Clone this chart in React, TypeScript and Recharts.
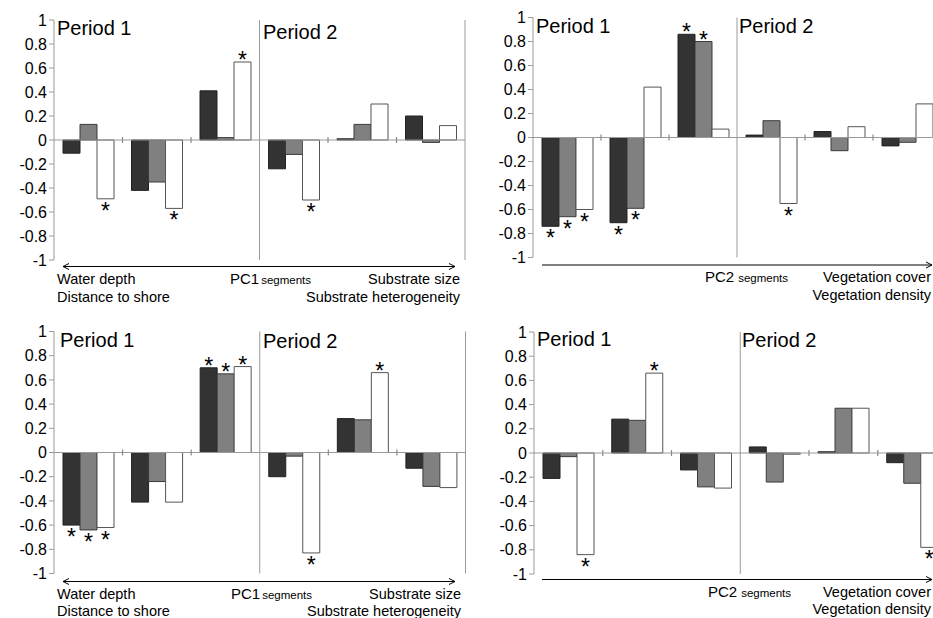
import React from "react";
import { BarChart, Bar, XAxis, YAxis, ReferenceLine, LabelList } from "recharts";

const FONT = "Arial, 'Liberation Sans', Helvetica, sans-serif";
const AXIS = "#9a9a9a";

// six segment groups, three in each period
const segments = ["P1 s1", "P1 s2", "P1 s3", "P2 s1", "P2 s2", "P2 s3"];
const yTicks = [-1, -0.8, -0.6, -0.4, -0.2, 0, 0.2, 0.4, 0.6, 0.8, 1];

// PC1 segments, upper panel
const pc1aDark = [-0.11, -0.42, 0.41, -0.24, 0.01, 0.2];
const pc1aGrey = [0.13, -0.35, 0.02, -0.12, 0.13, -0.02];
const pc1aWhite = [-0.49, -0.57, 0.65, -0.5, 0.3, 0.12];
const pc1aDarkSig = [0, 0, 0, 0, 0, 0];
const pc1aGreySig = [0, 0, 0, 0, 0, 0];
const pc1aWhiteSig = [1, 1, 1, 1, 0, 0];

// PC2 segments, upper panel
const pc2aDark = [-0.74, -0.71, 0.86, 0.02, 0.05, -0.07];
const pc2aGrey = [-0.66, -0.59, 0.8, 0.14, -0.11, -0.04];
const pc2aWhite = [-0.6, 0.42, 0.07, -0.55, 0.09, 0.28];
const pc2aDarkSig = [1, 1, 1, 0, 0, 0];
const pc2aGreySig = [1, 1, 1, 0, 0, 0];
const pc2aWhiteSig = [1, 0, 0, 1, 0, 0];

// PC1 segments, lower panel
const pc1bDark = [-0.6, -0.41, 0.7, -0.2, 0.28, -0.13];
const pc1bGrey = [-0.64, -0.24, 0.65, -0.03, 0.27, -0.28];
const pc1bWhite = [-0.62, -0.41, 0.71, -0.83, 0.66, -0.29];
const pc1bDarkSig = [1, 0, 1, 0, 0, 0];
const pc1bGreySig = [1, 0, 1, 0, 0, 0];
const pc1bWhiteSig = [1, 0, 1, 1, 1, 0];

// PC2 segments, lower panel
const pc2bDark = [-0.21, 0.28, -0.14, 0.05, 0.01, -0.08];
const pc2bGrey = [-0.03, 0.27, -0.28, -0.24, 0.37, -0.25];
const pc2bWhite = [-0.84, 0.66, -0.29, -0.01, 0.37, -0.78];
const pc2bDarkSig = [0, 0, 0, 0, 0, 0];
const pc2bGreySig = [0, 0, 0, 0, 0, 0];
const pc2bWhiteSig = [1, 1, 0, 0, 0, 1];

const star = (vals: number[], sig: number[]) => (props: any) => {
  const i = props.index;
  if (i == null || !sig[i]) return null;
  const vb = props.viewBox || props;
  const x = Number(props.x ?? vb.x);
  const y = Number(props.y ?? vb.y);
  const w = Number(props.width ?? vb.width);
  const h = Number(props.height ?? vb.height);
  const top = Math.min(y, y + h);
  const bottom = Math.max(y, y + h);
  const up = vals[i] >= 0;
  return (
    <text
      x={x + w / 2}
      y={up ? top + 6 : bottom + 20}
      textAnchor="middle"
      fontSize={23}
      fontFamily={FONT}
      fill="#000"
    >
      *
    </text>
  );
};

// short tick crossing the zero line at a segment boundary (domain is symmetric, so zero is mid-height)
const zeroTick = (props: any) => {
  const x = Number(props.x1);
  const mid = (Number(props.y1) + Number(props.y2)) / 2;
  return <line x1={x} x2={x} y1={mid - 3} y2={mid + 3} stroke="#8a8a8a" strokeWidth={1.2} />;
};

type PanelProps = {
  left: number;
  top: number;
  width: number;
  height: number;
  margin: { top: number; right: number; bottom: number; left: number };
  yWidth: number;
  dark: number[];
  grey: number[];
  white: number[];
  darkSig: number[];
  greySig: number[];
  whiteSig: number[];
};

function Panel(p: PanelProps) {
  const data = segments.map((s, i) => ({
    seg: s,
    dark: p.dark[i],
    grey: p.grey[i],
    white: p.white[i],
  }));
  return (
    <div style={{ position: "absolute", left: p.left, top: p.top }}>
      <BarChart
        width={p.width}
        height={p.height}
        data={data}
        margin={p.margin}
        barCategoryGap={9}
        barGap={0}
      >
        <XAxis dataKey="seg" hide />
        <YAxis
          domain={[-1, 1]}
          ticks={yTicks}
          interval={0}
          width={p.yWidth}
          tickSize={5}
          allowDataOverflow
          axisLine={{ stroke: AXIS }}
          tickLine={{ stroke: AXIS }}
          tick={{ fontSize: 16, fill: "#000", fontFamily: FONT }}
        />
        <ReferenceLine y={0} stroke={AXIS} />
        {[1, 2, 4, 5].map((i) => (
          <ReferenceLine
            key={i}
            x={segments[i]}
            position="start"
            stroke={AXIS}
            shape={zeroTick}
          />
        ))}
        <ReferenceLine x={segments[3]} position="start" stroke={AXIS} />
        <ReferenceLine x={segments[5]} position="end" stroke={AXIS} ifOverflow="visible" />
        <Bar dataKey="dark" fill="#333333" stroke="#222" isAnimationActive={false}>
          <LabelList dataKey="dark" content={star(p.dark, p.darkSig)} />
        </Bar>
        <Bar dataKey="grey" fill="#808080" stroke="#3a3a3a" isAnimationActive={false}>
          <LabelList dataKey="grey" content={star(p.grey, p.greySig)} />
        </Bar>
        <Bar dataKey="white" fill="#ffffff" stroke="#555" isAnimationActive={false}>
          <LabelList dataKey="white" content={star(p.white, p.whiteSig)} />
        </Bar>
      </BarChart>
    </div>
  );
}

function Arrow({ x1, x2, y, both }: { x1: number; x2: number; y: number; both?: boolean }) {
  return (
    <g stroke="#000" strokeWidth={1} fill="none">
      <line x1={x1} y1={y} x2={x2} y2={y} />
      <path d={`M${x2 - 6},${y - 3} L${x2},${y} L${x2 - 6},${y + 3}`} />
      {both && <path d={`M${x1 + 6},${y - 3} L${x1},${y} L${x1 + 6},${y + 3}`} />}
    </g>
  );
}

function PcLabel({ x, y, name, gap }: { x: number; y: number; name: string; gap: number }) {
  return (
    <text x={x} y={y} fontSize={15} fontFamily={FONT} fill="#000">
      {name}
      <tspan fontSize={11.5} dx={gap}>
        segments
      </tspan>
    </text>
  );
}

export default function App() {
  const t = { fontFamily: FONT, fill: "#000" };
  return (
    <div
      style={{
        position: "fixed",
        left: 0,
        top: 0,
        width: 933,
        height: 618,
        overflow: "hidden",
        background: "#fff",
      }}
    >
      <Panel
        left={0}
        top={0}
        width={470}
        height={310}
        margin={{ top: 20, right: 5, bottom: 50, left: 0 }}
        yWidth={54}
        dark={pc1aDark}
        grey={pc1aGrey}
        white={pc1aWhite}
        darkSig={pc1aDarkSig}
        greySig={pc1aGreySig}
        whiteSig={pc1aWhiteSig}
      />
      <Panel
        left={463}
        top={0}
        width={483}
        height={310}
        margin={{ top: 17.5, right: 5, bottom: 52.5, left: 0 }}
        yWidth={70}
        dark={pc2aDark}
        grey={pc2aGrey}
        white={pc2aWhite}
        darkSig={pc2aDarkSig}
        greySig={pc2aGreySig}
        whiteSig={pc2aWhiteSig}
      />
      <Panel
        left={0}
        top={300}
        width={470}
        height={310}
        margin={{ top: 31.5, right: 4.5, bottom: 36.5, left: 0 }}
        yWidth={54}
        dark={pc1bDark}
        grey={pc1bGrey}
        white={pc1bWhite}
        darkSig={pc1bDarkSig}
        greySig={pc1bGreySig}
        whiteSig={pc1bWhiteSig}
      />
      <Panel
        left={463}
        top={300}
        width={488}
        height={310}
        margin={{ top: 32, right: 4.5, bottom: 36, left: 0 }}
        yWidth={71}
        dark={pc2bDark}
        grey={pc2bGrey}
        white={pc2bWhite}
        darkSig={pc2bDarkSig}
        greySig={pc2bGreySig}
        whiteSig={pc2bWhiteSig}
      />
      <svg
        width={933}
        height={618}
        style={{ position: "absolute", left: 0, top: 0, pointerEvents: "none" }}
      >
        {/* period headings */}
        <g fontSize={20} {...t}>
          <text x={57} y={35}>Period 1</text>
          <text x={263} y={39}>Period 2</text>
          <text x={536} y={33}>Period 1</text>
          <text x={739} y={33}>Period 2</text>
          <text x={60} y={347}>Period 1</text>
          <text x={263} y={348}>Period 2</text>
          <text x={537} y={346}>Period 1</text>
          <text x={742} y={347}>Period 2</text>
        </g>

        {/* gradient axes below the panels */}
        <Arrow x1={63} x2={455} y={266.5} both />
        <Arrow x1={542} x2={932} y={265} />
        <Arrow x1={63} x2={455} y={581.5} both />
        <Arrow x1={542} x2={932} y={579.5} />

        <g fontSize={14.5} {...t}>
          <text x={57} y={284}>Water depth</text>
          <text x={57} y={302}>Distance to shore</text>
          <text x={460} y={284} textAnchor="end">Substrate size</text>
          <text x={460} y={302} textAnchor="end">Substrate heterogeneity</text>
          <text x={931} y={282} textAnchor="end">Vegetation cover</text>
          <text x={931} y={300} textAnchor="end">Vegetation density</text>

          <text x={57} y={599}>Water depth</text>
          <text x={57} y={616}>Distance to shore</text>
          <text x={461} y={599} textAnchor="end">Substrate size</text>
          <text x={461} y={616} textAnchor="end">Substrate heterogeneity</text>
          <text x={931} y={597} textAnchor="end">Vegetation cover</text>
          <text x={931} y={614} textAnchor="end">Vegetation density</text>
        </g>
        <PcLabel x={230} y={284} name="PC1" gap={2} />
        <PcLabel x={705} y={282} name="PC2" gap={4} />
        <PcLabel x={231} y={599} name="PC1" gap={2} />
        <PcLabel x={708} y={597} name="PC2" gap={4} />
      </svg>
    </div>
  );
}
